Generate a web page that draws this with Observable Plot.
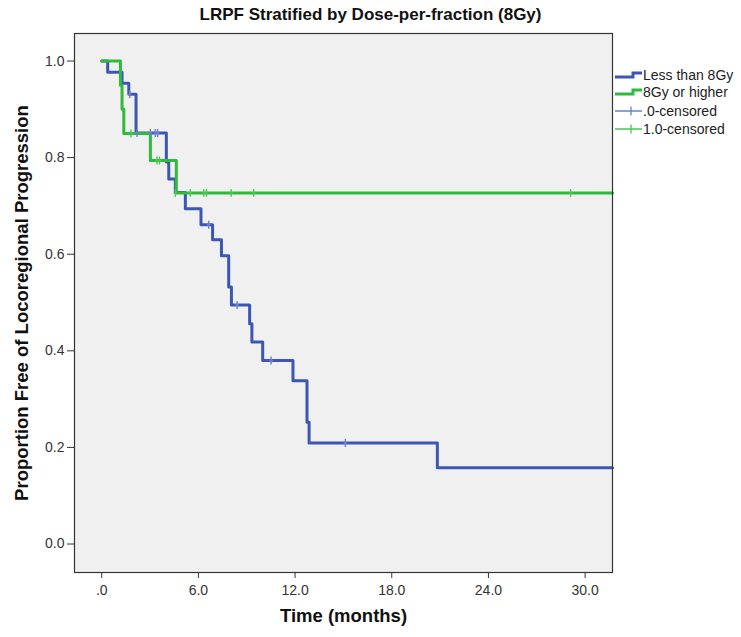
<!DOCTYPE html>
<html><head><meta charset="utf-8">
<script src="https://cdn.jsdelivr.net/npm/d3@7"></script>
<script src="https://cdn.jsdelivr.net/npm/@observablehq/plot@0.6"></script>
<style>
body{margin:0;background:#fff;font-family:"Liberation Sans",Arial,sans-serif}
#wrap{position:relative;width:741px;height:637px}
#title{position:absolute;left:0;top:5px;width:741px;text-align:center;font-weight:bold;font-size:17px;color:#111}
#legend{position:absolute;left:614px;top:60px}
#chart{position:absolute;left:0;top:0}
</style></head><body>
<div id="wrap">
<div id="chart"></div>
<div id="title">LRPF Stratified by Dose-per-fraction (8Gy)</div>
<svg id="legend" width="127" height="82" font-family="Liberation Sans, Arial, sans-serif" font-size="14"></svg>
</div>
<script>
// Less than 8Gy (blue) Kaplan-Meier steps
const blueTimes = [0, 0.37, 1.26, 1.68, 2.13, 4.01, 4.16, 4.57, 5.19, 6.16, 6.88, 7.43, 7.88, 8.05, 9.18, 9.32, 9.99, 11.87, 12.74, 12.87, 20.83, 31.7];
const blueSurv  = [1.0, 0.977, 0.954, 0.931, 0.851, 0.791, 0.756, 0.728, 0.694, 0.661, 0.630, 0.597, 0.532, 0.495, 0.456, 0.418, 0.380, 0.338, 0.252, 0.209, 0.158, 0.158];
// 8Gy or higher (green)
const greenTimes = [0, 1.16, 1.26, 1.37, 3.02, 4.63, 31.7];
const greenSurv  = [1.0, 0.95, 0.90, 0.85, 0.794, 0.727, 0.727];
// censor marks
const blueCensorT = [1.74, 2.19, 3.02, 3.33, 3.47, 6.64, 8.40, 10.51, 15.12];
const blueCensorS = [0.931, 0.851, 0.851, 0.851, 0.851, 0.661, 0.495, 0.380, 0.209];
const greenCensorT = [1.82, 3.43, 3.58, 4.57, 5.50, 6.33, 6.50, 8.03, 9.43, 29.1];
const greenCensorS = [0.85, 0.794, 0.794, 0.727, 0.727, 0.727, 0.727, 0.727, 0.727, 0.727];
// axes
const xTicks = [0, 6, 12, 18, 24, 30];
const xTickLabels = [".0", "6.0", "12.0", "18.0", "24.0", "30.0"];
const yTicks = [0, 0.2, 0.4, 0.6, 0.8, 1.0];
const yTickLabels = ["0.0", "0.2", "0.4", "0.6", "0.8", "1.0"];
const xDomain = [-1.69, 31.7];
const yDomain = [-0.059, 1.057];
const seriesNames = ["Less than 8Gy", "8Gy or higher", ".0-censored", "1.0-censored"];
const colors = {blue: "#3c57b2", green: "#2fba3c", blueC: "#6a7fd0", greenC: "#4cc457"};

const blue = blueTimes.map((t, i) => ({t, s: blueSurv[i]}));
const green = greenTimes.map((t, i) => ({t, s: greenSurv[i]}));
const blueC = blueCensorT.map((t, i) => ({t, s: blueCensorS[i]}));
const greenC = greenCensorT.map((t, i) => ({t, s: greenCensorS[i]}));

// censor symbol: tall vertical tick with a short horizontal arm
const censorSymbol = {
  draw(ctx, size) {
    const r = Math.sqrt(size) / 2;
    ctx.moveTo(0, -r); ctx.lineTo(0, r);
    ctx.moveTo(-r * 0.45, 0); ctx.lineTo(r * 0.45, 0);
  }
};

const font = "Liberation Sans, Arial, sans-serif";
const chart = Plot.plot({
  width: 741, height: 637,
  marginLeft: 74, marginRight: 129, marginTop: 33, marginBottom: 65,
  style: {background: "transparent", fontFamily: font},
  x: {domain: xDomain},
  y: {domain: yDomain},
  marks: [
    Plot.frame({fill: "#f0f0f0", stroke: null}),
    Plot.axisX({ticks: xTicks, tickFormat: d => xTickLabels[xTicks.indexOf(d)], tickSize: 6, tickPadding: 7, fontSize: 14, label: null, stroke: "#333", fill: "#333"}),
    Plot.axisY({ticks: yTicks, tickFormat: d => yTickLabels[yTicks.findIndex(v => Math.abs(v - d) < 1e-9)], tickSize: 7, tickPadding: 3, fontSize: 14, label: null, stroke: "#333", fill: "#333"}),
    Plot.line(blue, {x: "t", y: "s", curve: "step-after", stroke: colors.blue, strokeWidth: 3}),
    Plot.line(green, {x: "t", y: "s", curve: "step-after", stroke: colors.green, strokeWidth: 3}),
    Plot.dot(blueC, {x: "t", y: "s", symbol: censorSymbol, r: 4.5, stroke: colors.blueC, strokeWidth: 1.4}),
    Plot.dot(greenC, {x: "t", y: "s", symbol: censorSymbol, r: 4.5, stroke: colors.greenC, strokeWidth: 1.4}),
    Plot.frame({stroke: "#333", strokeWidth: 1.2}),
    Plot.text(["Time (months)"], {frameAnchor: "bottom", dy: 49, fontWeight: "bold", fontSize: 18.5, fill: "#111"}),
    Plot.text(["Proportion Free of Locoregional Progression"], {frameAnchor: "left", dx: -52, rotate: -90, textAnchor: "middle", lineAnchor: "middle", fontWeight: "bold", fontSize: 18.5, fill: "#111"})
  ]
});
document.getElementById("chart").appendChild(chart);

// legend
const lg = d3.select("#legend");
const rows = [15, 32, 51, 69];
const lcolors = [colors.blue, colors.green, colors.blueC, colors.greenC];
rows.forEach((y, i) => {
  if (i < 2) {
    lg.append("path").attr("d", `M1,${y + 2} H19 V${y - 2} H28`).attr("fill", "none").attr("stroke", lcolors[i]).attr("stroke-width", 3);
  } else {
    lg.append("path").attr("d", `M1,${y} H28 M17,${y - 4.5} V${y + 4.5}`).attr("fill", "none").attr("stroke", lcolors[i]).attr("stroke-width", 1.3);
  }
  lg.append("text").attr("x", 29).attr("y", y).attr("dy", "0.35em").attr("fill", "#222").text(seriesNames[i]);
});
</script>
</body></html>
